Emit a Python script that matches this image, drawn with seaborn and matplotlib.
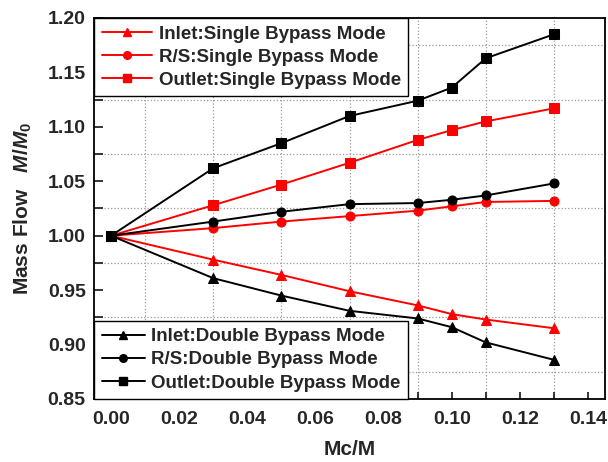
import matplotlib
matplotlib.use("Agg")
import matplotlib.pyplot as plt
from matplotlib.ticker import MultipleLocator, FormatStrFormatter
from matplotlib.lines import Line2D
import seaborn as sns
import pandas as pd

mc_ratio = [0.0, 0.03, 0.05, 0.07, 0.09, 0.10, 0.11, 0.13]

inlet_single = [1.000, 0.978, 0.964, 0.949, 0.936, 0.928, 0.923, 0.915]
rs_single = [1.000, 1.007, 1.013, 1.018, 1.023, 1.027, 1.031, 1.032]
outlet_single = [1.000, 1.028, 1.047, 1.067, 1.088, 1.097, 1.105, 1.117]

inlet_double = [1.000, 0.961, 0.945, 0.931, 0.924, 0.916, 0.902, 0.886]
rs_double = [1.000, 1.013, 1.022, 1.029, 1.030, 1.033, 1.037, 1.048]
outlet_double = [1.000, 1.062, 1.085, 1.110, 1.124, 1.136, 1.163, 1.185]

single_labels = ["Inlet:Single Bypass Mode", "R/S:Single Bypass Mode", "Outlet:Single Bypass Mode"]
double_labels = ["Inlet:Double Bypass Mode", "R/S:Double Bypass Mode", "Outlet:Double Bypass Mode"]

sns.set_style("ticks")
plt.rcParams["font.family"] = ["Liberation Sans", "DejaVu Sans"]
plt.rcParams["font.weight"] = "bold"
plt.rcParams["mathtext.fontset"] = "custom"
plt.rcParams["mathtext.it"] = "Liberation Sans:italic:bold"
plt.rcParams["mathtext.rm"] = "Liberation Sans:bold"

fig = plt.figure(figsize=(6.08, 4.62), dpi=100)
ax = fig.add_axes([94 / 608, 1 - 399 / 462, (605 - 94) / 608, (399 - 18) / 462])

series = [
    (single_labels[0], inlet_single, "red", "^"),
    (single_labels[1], rs_single, "red", "o"),
    (single_labels[2], outlet_single, "red", "s"),
    (double_labels[0], inlet_double, "black", "^"),
    (double_labels[1], rs_double, "black", "o"),
    (double_labels[2], outlet_double, "black", "s"),
]

handles = {}
for name, vals, color, marker in series:
    df = pd.DataFrame({"x": mc_ratio, "y": vals})
    sns.lineplot(data=df, x="x", y="y", ax=ax, color=color, marker=marker,
                 markersize=7 if marker != "o" else 6.5, markeredgecolor=color,
                 linewidth=1.4, legend=False)
    handles[name] = Line2D([], [], color=color, marker=marker, markersize=5.5,
                           markeredgecolor=color, linewidth=1.4)

ax.set_xlim(-0.005, 0.145)
ax.set_ylim(0.85, 1.20)
ax.xaxis.set_major_locator(MultipleLocator(0.02))
ax.xaxis.set_minor_locator(MultipleLocator(0.01))
ax.yaxis.set_major_locator(MultipleLocator(0.05))
ax.yaxis.set_minor_locator(MultipleLocator(0.025))
ax.xaxis.set_major_formatter(FormatStrFormatter("%.2f"))
ax.yaxis.set_major_formatter(FormatStrFormatter("%.2f"))
ax.grid(False, which="major")
ax.grid(True, which="minor", linestyle=":", color="#9a9a9a", linewidth=0.9)
ax.set_axisbelow(True)

ax.tick_params(which="both", direction="in", labelsize=14, length=5, width=1.3)
ax.tick_params(axis="y", which="both", length=6.5)
ax.tick_params(axis="x", which="both", pad=9)
ax.tick_params(axis="y", which="both", pad=6)
for lab in ax.get_xticklabels() + ax.get_yticklabels():
    lab.set_fontweight("bold")
for sp in ax.spines.values():
    sp.set_linewidth(1.3)
    sp.set_color("black")

ax.set_xlabel("Mc/M", fontsize=15, fontweight="bold", labelpad=8)
ax.set_ylabel(r"Mass Flow   $M/M_0$", fontsize=15, fontweight="bold", labelpad=10)

leg_kw = dict(borderaxespad=0, frameon=True, fancybox=False, edgecolor="black",
              framealpha=1, handletextpad=0.35, labelspacing=0.32, borderpad=0.4,
              prop={"weight": "bold", "size": 13.5})
leg1 = ax.legend([handles[n] for n in single_labels], single_labels, loc="upper left",
                 handlelength=2.7, **leg_kw)
leg1.get_frame().set_linewidth(1.0)
ax.add_artist(leg1)
leg2 = ax.legend([handles[n] for n in double_labels], double_labels, loc="lower left",
                 handlelength=2.3, **leg_kw)
leg2.get_frame().set_linewidth(1.0)

fig.savefig("out.png", dpi=100)
